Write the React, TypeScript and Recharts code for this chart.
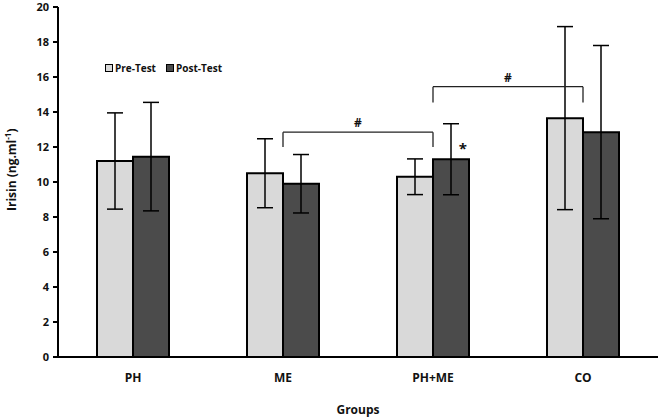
import React from 'react';
import {
  BarChart,
  Bar,
  XAxis,
  YAxis,
  ErrorBar,
  LabelList,
  ReferenceLine,
} from 'recharts';

const groups = ['PH', 'ME', 'PH+ME', 'CO'];
const preTest = [11.2, 10.5, 10.3, 13.65];
const postTest = [11.45, 9.9, 11.3, 12.85];
const preSd = [2.75, 1.97, 1.02, 5.23];
const postSd = [3.1, 1.67, 2.03, 4.95];
const postMarks = ['', '', '*', ''];
const yTicks = [0, 2, 4, 6, 8, 10, 12, 14, 16, 18, 20];
const boundTicks = [0, 1, 2, 3, 4];

// brackets between groups, '#' on top
const brackets = [
  { from: 'ME', to: 'PH+ME', top: 12.85, foot: 12.0 },
  { from: 'PH+ME', to: 'CO', top: 15.45, foot: 14.55 },
];

const data = groups.map((g, i) => ({
  group: g,
  pre: preTest[i],
  post: postTest[i],
  preErr: preSd[i],
  postErr: postSd[i],
  mark: postMarks[i],
}));

const FONT = '"Open Sans", Lato, sans-serif';
const LIGHT = '#d9d9d9';
const DARK = '#4b4b4b';
const CAT = 1; // category axis id, sits below the boundary-tick axis (id 0)

const YLabel = (props: any) => {
  const { viewBox } = props;
  const x = viewBox.x + 1;
  const y = viewBox.y + viewBox.height * 0.465;
  return (
    <text
      x={x}
      y={y}
      transform={`rotate(-90, ${x}, ${y})`}
      textAnchor="middle"
      dominantBaseline="central"
      fontFamily={FONT}
      fontWeight={700}
      fontSize={12}
      fill="#111"
    >
      Irisin (ng.ml
      <tspan dy={-4} fontSize={8}>-1</tspan>
      <tspan dy={4}>)</tspan>
    </text>
  );
};

const Star = (props: any) => {
  const { x, y, width, value } = props;
  if (!value) return null;
  return (
    <text
      x={x + width * 0.83}
      y={y - 5}
      textAnchor="middle"
      fontFamily={FONT}
      fontWeight={700}
      fontSize={15}
      fill="#111"
    >
      {value}
    </text>
  );
};

const swatch = (color: string) => ({
  display: 'inline-block',
  width: 6,
  height: 6,
  background: color,
  border: '1.5px solid #000',
  marginRight: 2,
});

export default function App() {
  return (
    <div style={{ position: 'absolute', left: 0, top: 0, width: 660, height: 417, background: '#fff' }}>
      <BarChart
        width={660}
        height={417}
        data={data}
        margin={{ top: 7, right: 2, bottom: 3, left: 10 }}
        barCategoryGap="26%"
        barGap={0}
      >
        <XAxis
          xAxisId={0}
          type="number"
          domain={[0, 4]}
          ticks={boundTicks}
          allowDataOverflow
          tick={false}
          tickSize={5}
          height={6}
          stroke="#000"
          strokeWidth={2}
        />
        <XAxis
          xAxisId={CAT}
          dataKey="group"
          axisLine={false}
          tickLine={false}
          tickSize={0}
          tickMargin={10}
          height={51}
          tick={{ fontFamily: FONT, fontWeight: 700, fontSize: 12, fill: '#111' }}
          label={{
            value: 'Groups',
            position: 'insideBottom',
            offset: 0,
            fontFamily: FONT,
            fontWeight: 700,
            fontSize: 12,
            fill: '#111',
          }}
        />
        <YAxis
          domain={[0, 20]}
          ticks={yTicks}
          width={48}
          tickSize={5}
          tickMargin={4}
          stroke="#000"
          strokeWidth={2}
          tick={{ fontFamily: FONT, fontWeight: 700, fontSize: 11, fill: '#111' }}
          label={<YLabel />}
        />
        <Bar xAxisId={CAT} dataKey="pre" name="Pre-Test" fill={LIGHT} stroke="#000" strokeWidth={2} isAnimationActive={false}>
          <ErrorBar dataKey="preErr" width={8} stroke="#000" strokeWidth={1.5} />
        </Bar>
        <Bar xAxisId={CAT} dataKey="post" name="Post-Test" fill={DARK} stroke="#000" strokeWidth={2} isAnimationActive={false}>
          <ErrorBar dataKey="postErr" width={8} stroke="#000" strokeWidth={1.5} />
          <LabelList dataKey="mark" content={<Star />} />
        </Bar>
        {brackets.map((b, i) => (
          <ReferenceLine
            key={`top-${i}`}
            xAxisId={CAT}
            segment={[
              { x: b.from, y: b.top },
              { x: b.to, y: b.top },
            ]}
            stroke="#222"
            strokeWidth={1.3}
            label={{ value: '#', position: 'top', offset: 5, fontFamily: FONT, fontWeight: 700, fontSize: 12, fill: '#111' }}
          />
        ))}
        {brackets.map((b, i) => (
          <ReferenceLine
            key={`l-${i}`}
            xAxisId={CAT}
            segment={[
              { x: b.from, y: b.foot },
              { x: b.from, y: b.top },
            ]}
            stroke="#222"
            strokeWidth={1.3}
          />
        ))}
        {brackets.map((b, i) => (
          <ReferenceLine
            key={`r-${i}`}
            xAxisId={CAT}
            segment={[
              { x: b.to, y: b.foot },
              { x: b.to, y: b.top },
            ]}
            stroke="#222"
            strokeWidth={1.3}
          />
        ))}
      </BarChart>
      <div
        style={{
          position: 'absolute',
          left: 105,
          top: 61,
          display: 'flex',
          alignItems: 'center',
          fontFamily: FONT,
          fontWeight: 700,
          fontSize: 10,
          color: '#111',
          whiteSpace: 'nowrap',
        }}
      >
        <span style={swatch(LIGHT)} />
        <span style={{ marginRight: 10 }}>Pre-Test</span>
        <span style={swatch(DARK)} />
        <span>Post-Test</span>
      </div>
    </div>
  );
}
